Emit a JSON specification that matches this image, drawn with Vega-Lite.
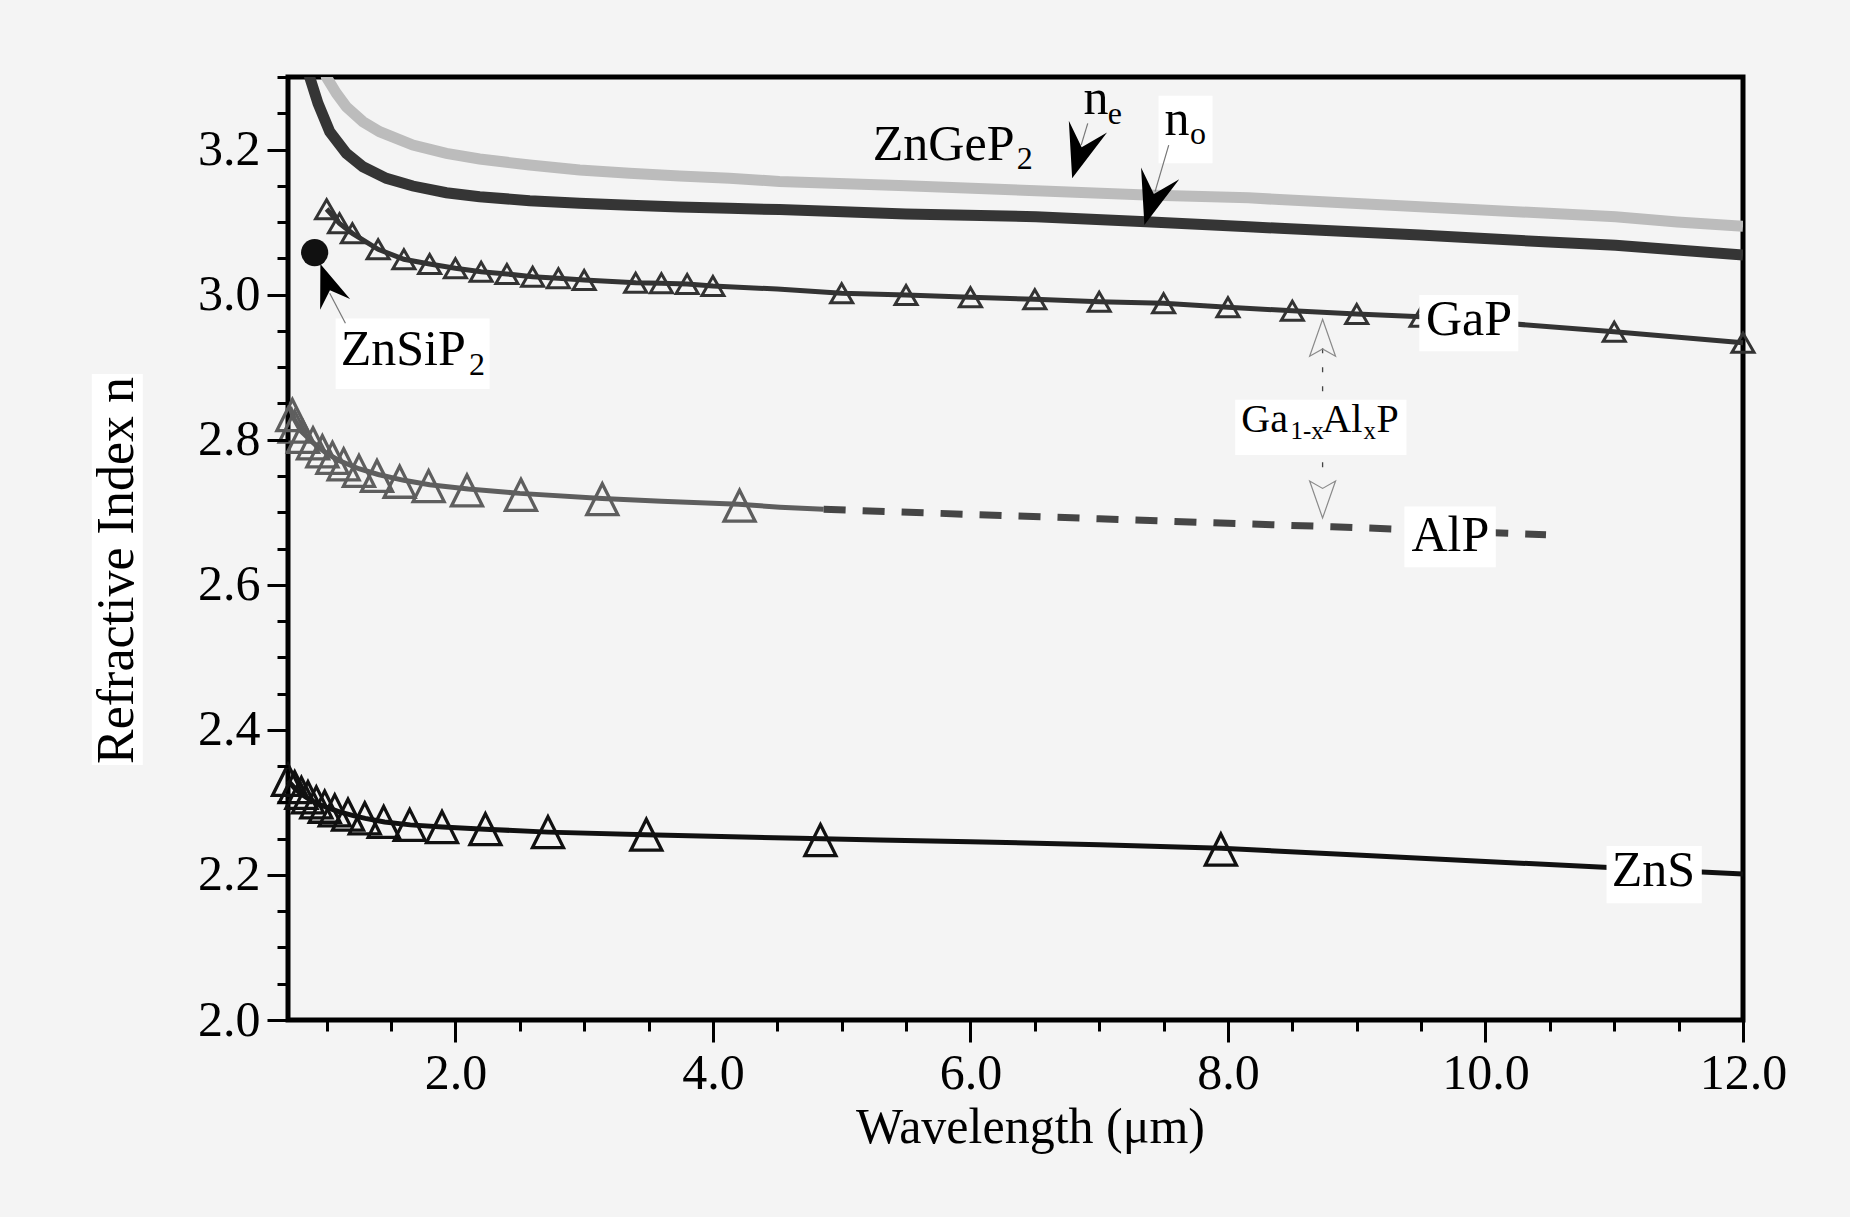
{
  "$schema": "https://vega.github.io/schema/vega-lite/v6.json",
  "width": 1455,
  "height": 943,
  "autosize": {"type": "none"},
  "padding": {"left": 288, "top": 77, "right": 107, "bottom": 197},
  "background": "#f4f4f4",
  "config": {"view": {"stroke": "#000000", "strokeWidth": 5}, "font": "Liberation Serif"},
  "datasets": {
    "ne": [
      {"lambda": 0.985, "n": 3.315}, {"lambda": 0.998, "n": 3.3}, {"lambda": 1.076, "n": 3.2775}, {"lambda": 1.153, "n": 3.259},
      {"lambda": 1.282, "n": 3.2384}, {"lambda": 1.412, "n": 3.2246}, {"lambda": 1.67, "n": 3.2062}, {"lambda": 1.93, "n": 3.1948},
      {"lambda": 2.188, "n": 3.1869}, {"lambda": 2.577, "n": 3.1787}, {"lambda": 2.965, "n": 3.1718}, {"lambda": 3.353, "n": 3.1672},
      {"lambda": 3.741, "n": 3.1635}, {"lambda": 4.129, "n": 3.1603}, {"lambda": 4.517, "n": 3.156}, {"lambda": 5.5, "n": 3.1501},
      {"lambda": 6.51, "n": 3.1432}, {"lambda": 7.364, "n": 3.1373}, {"lambda": 8.16, "n": 3.1336}, {"lambda": 8.4, "n": 3.131},
      {"lambda": 9.49, "n": 3.1212}, {"lambda": 10.49, "n": 3.1121}, {"lambda": 11.01, "n": 3.1074}, {"lambda": 11.49, "n": 3.1001},
      {"lambda": 12.0, "n": 3.0942}
    ],
    "no": [
      {"lambda": 0.86, "n": 3.315}, {"lambda": 0.868, "n": 3.3}, {"lambda": 0.933, "n": 3.2637}, {"lambda": 1.024, "n": 3.2246},
      {"lambda": 1.153, "n": 3.1948}, {"lambda": 1.282, "n": 3.1763}, {"lambda": 1.464, "n": 3.1603}, {"lambda": 1.67, "n": 3.1497},
      {"lambda": 1.93, "n": 3.1405}, {"lambda": 2.188, "n": 3.135}, {"lambda": 2.577, "n": 3.1295}, {"lambda": 2.965, "n": 3.1259},
      {"lambda": 3.353, "n": 3.1231}, {"lambda": 3.741, "n": 3.1208}, {"lambda": 4.129, "n": 3.119}, {"lambda": 4.517, "n": 3.1172},
      {"lambda": 5.5, "n": 3.1111}, {"lambda": 6.51, "n": 3.1075}, {"lambda": 7.364, "n": 3.1005}, {"lambda": 8.16, "n": 3.0937},
      {"lambda": 8.4, "n": 3.0914}, {"lambda": 9.49, "n": 3.0822}, {"lambda": 10.49, "n": 3.0725}, {"lambda": 11.01, "n": 3.068},
      {"lambda": 12.0, "n": 3.0546}
    ],
    "gapLine": [
      {"lambda": 1.0, "n": 3.118}, {"lambda": 1.1, "n": 3.098}, {"lambda": 1.2, "n": 3.0845}, {"lambda": 1.4, "n": 3.0625},
      {"lambda": 1.6, "n": 3.0487}, {"lambda": 1.8, "n": 3.0422}, {"lambda": 2.0, "n": 3.0363}, {"lambda": 2.2, "n": 3.0316},
      {"lambda": 2.4, "n": 3.0284}, {"lambda": 2.6, "n": 3.0247}, {"lambda": 2.8, "n": 3.0225}, {"lambda": 3.0, "n": 3.0201},
      {"lambda": 3.4, "n": 3.0164}, {"lambda": 3.6, "n": 3.0156}, {"lambda": 3.8, "n": 3.0146}, {"lambda": 4.0, "n": 3.0119},
      {"lambda": 4.5, "n": 3.0076}, {"lambda": 5.0, "n": 3.0018}, {"lambda": 5.5, "n": 2.9995}, {"lambda": 6.0, "n": 2.9963},
      {"lambda": 6.5, "n": 2.9935}, {"lambda": 7.0, "n": 2.9902}, {"lambda": 7.5, "n": 2.988}, {"lambda": 8.0, "n": 2.9825},
      {"lambda": 8.5, "n": 2.9778}, {"lambda": 9.0, "n": 2.9733}, {"lambda": 9.5, "n": 2.9695}, {"lambda": 10.0, "n": 2.9626},
      {"lambda": 11.0, "n": 2.9489}, {"lambda": 12.0, "n": 2.9337}
    ],
    "gapPts": [
      {"lambda": 1.0, "n": 3.1176}, {"lambda": 1.1, "n": 3.0983}, {"lambda": 1.2, "n": 3.0845}, {"lambda": 1.4, "n": 3.0625},
      {"lambda": 1.6, "n": 3.0487}, {"lambda": 1.8, "n": 3.0422}, {"lambda": 2.0, "n": 3.0363}, {"lambda": 2.2, "n": 3.0316},
      {"lambda": 2.4, "n": 3.0284}, {"lambda": 2.6, "n": 3.0247}, {"lambda": 2.8, "n": 3.0225}, {"lambda": 3.0, "n": 3.0201},
      {"lambda": 3.4, "n": 3.0164}, {"lambda": 3.6, "n": 3.0156}, {"lambda": 3.8, "n": 3.0146}, {"lambda": 4.0, "n": 3.0119},
      {"lambda": 5.0, "n": 3.0018}, {"lambda": 5.5, "n": 2.9995}, {"lambda": 6.0, "n": 2.9963}, {"lambda": 6.5, "n": 2.9935},
      {"lambda": 7.0, "n": 2.9902}, {"lambda": 7.5, "n": 2.988}, {"lambda": 8.0, "n": 2.9825}, {"lambda": 8.5, "n": 2.9778},
      {"lambda": 9.0, "n": 2.9733}, {"lambda": 9.5, "n": 2.9695}, {"lambda": 10.0, "n": 2.9626}, {"lambda": 11.0, "n": 2.9489},
      {"lambda": 12.0, "n": 2.9337}
    ],
    "alpSolid": [
      {"lambda": 0.713, "n": 2.845}, {"lambda": 0.75, "n": 2.828}, {"lambda": 0.8, "n": 2.812}, {"lambda": 0.9, "n": 2.795},
      {"lambda": 1.0, "n": 2.781}, {"lambda": 1.1, "n": 2.771}, {"lambda": 1.25, "n": 2.76}, {"lambda": 1.4, "n": 2.752},
      {"lambda": 1.6, "n": 2.744}, {"lambda": 1.8, "n": 2.738}, {"lambda": 2.1, "n": 2.732}, {"lambda": 2.5, "n": 2.726},
      {"lambda": 3.14, "n": 2.719}, {"lambda": 3.6, "n": 2.715}, {"lambda": 4.2, "n": 2.711}, {"lambda": 4.52, "n": 2.707},
      {"lambda": 4.86, "n": 2.704}
    ],
    "alpDash": [
      {"lambda": 4.86, "n": 2.704}, {"lambda": 6.0, "n": 2.697}, {"lambda": 7.0, "n": 2.691}, {"lambda": 7.78, "n": 2.686},
      {"lambda": 8.81, "n": 2.68}, {"lambda": 10.47, "n": 2.669}
    ],
    "alpPts": [
      {"lambda": 0.734, "n": 2.834}, {"lambda": 0.752, "n": 2.818}, {"lambda": 0.816, "n": 2.804}, {"lambda": 0.894, "n": 2.795},
      {"lambda": 0.967, "n": 2.784}, {"lambda": 1.045, "n": 2.775}, {"lambda": 1.132, "n": 2.766}, {"lambda": 1.251, "n": 2.757},
      {"lambda": 1.391, "n": 2.75}, {"lambda": 1.567, "n": 2.742}, {"lambda": 1.792, "n": 2.736}, {"lambda": 2.09, "n": 2.73},
      {"lambda": 2.509, "n": 2.724}, {"lambda": 3.141, "n": 2.718}, {"lambda": 4.207, "n": 2.709}
    ],
    "znsLine": [
      {"lambda": 0.7, "n": 2.33}, {"lambda": 0.75, "n": 2.32}, {"lambda": 0.8, "n": 2.312}, {"lambda": 0.86, "n": 2.305},
      {"lambda": 0.92, "n": 2.299}, {"lambda": 1.0, "n": 2.293}, {"lambda": 1.1, "n": 2.287}, {"lambda": 1.2, "n": 2.282},
      {"lambda": 1.3, "n": 2.278}, {"lambda": 1.45, "n": 2.273}, {"lambda": 1.65, "n": 2.269}, {"lambda": 1.9, "n": 2.266},
      {"lambda": 2.23, "n": 2.263}, {"lambda": 2.72, "n": 2.259}, {"lambda": 3.48, "n": 2.2555}, {"lambda": 4.67, "n": 2.2505},
      {"lambda": 5.29, "n": 2.248}, {"lambda": 6.0, "n": 2.2458}, {"lambda": 7.0, "n": 2.2415}, {"lambda": 7.95, "n": 2.2367},
      {"lambda": 9.0, "n": 2.2274}, {"lambda": 10.0, "n": 2.2186}, {"lambda": 10.92, "n": 2.2105}, {"lambda": 12.0, "n": 2.2013}
    ],
    "znsPts": [
      {"lambda": 0.7, "n": 2.331}, {"lambda": 0.752, "n": 2.321}, {"lambda": 0.804, "n": 2.313}, {"lambda": 0.855, "n": 2.307},
      {"lambda": 0.92, "n": 2.3}, {"lambda": 0.985, "n": 2.294}, {"lambda": 1.063, "n": 2.289}, {"lambda": 1.166, "n": 2.283},
      {"lambda": 1.296, "n": 2.278}, {"lambda": 1.443, "n": 2.273}, {"lambda": 1.645, "n": 2.269}, {"lambda": 1.896, "n": 2.266},
      {"lambda": 2.233, "n": 2.263}, {"lambda": 2.719, "n": 2.259}, {"lambda": 3.483, "n": 2.2555}, {"lambda": 4.835, "n": 2.248},
      {"lambda": 7.945, "n": 2.235}
    ],
    "znsip2": [{"lambda": 0.907, "n": 3.058}],
    "boxes": [
      {"name": "GaP", "lambda": 9.486, "lambda2": 10.255, "n": 2.9994, "n2": 2.922},
      {"name": "AlP", "lambda": 9.37, "lambda2": 10.08, "n": 2.708, "n2": 2.624},
      {"name": "ZnS", "lambda": 10.94, "lambda2": 11.68, "n": 2.24, "n2": 2.161},
      {"name": "ZnSiP2", "lambda": 1.07, "lambda2": 2.266, "n": 2.967, "n2": 2.87},
      {"name": "n_o", "lambda": 7.461, "lambda2": 7.88, "n": 3.274, "n2": 3.181},
      {"name": "GaAlP", "lambda": 8.056, "lambda2": 9.386, "n": 2.855, "n2": 2.779},
      {"name": "ytitle", "lambda": -0.824, "lambda2": -0.428, "n": 2.8906, "n2": 2.3515}
    ],
    "leaders": [
      {"lambda": 1.024, "n": 3.0018, "lambda2": 1.146, "n2": 2.9604},
      {"lambda": 6.86, "n": 3.206, "lambda2": 6.911, "n2": 3.236},
      {"lambda": 7.434, "n": 3.142, "lambda2": 7.54, "n2": 3.206}
    ],
    "alloyRule": [{"lambda": 8.735, "n": 2.926, "lambda2": 8.735, "n2": 2.744}],
    "labels": [
      {"t": "GaP", "lambda": 9.538, "n": 2.944},
      {"t": "AlP", "lambda": 9.425, "n": 2.646},
      {"t": "ZnS", "lambda": 10.98, "n": 2.1847},
      {"t": "ZnSiP", "lambda": 1.109, "n": 2.903},
      {"t": "ZnGeP", "lambda": 5.242, "n": 3.1855},
      {"t": "n", "lambda": 6.878, "n": 3.2486},
      {"t": "n", "lambda": 7.507, "n": 3.22}
    ],
    "subs": [
      {"t": "2", "lambda": 2.105, "n": 2.889},
      {"t": "2", "lambda": 6.36, "n": 3.1727},
      {"t": "e", "lambda": 7.066, "n": 3.2352},
      {"t": "o", "lambda": 7.706, "n": 3.2076}
    ],
    "alloyLabels": [
      {"t": "Ga", "lambda": 8.104, "n": 2.811},
      {"t": "Al", "lambda": 8.733, "n": 2.811},
      {"t": "P", "lambda": 9.153, "n": 2.811}
    ],
    "alloySubs": [
      {"t": "1-x", "lambda": 8.485, "n": 2.8005},
      {"t": "x", "lambda": 9.052, "n": 2.8005}
    ],
    "arrowsZnGeP2": [
      {"name": "n_e", "lambda": 6.79, "n": 3.1603},
      {"name": "n_o", "lambda": 7.351, "n": 3.096}
    ],
    "arrowZnSiP2": [{"lambda": 0.9515, "n": 3.0422}],
    "openUp": [{"lambda": 8.735, "n": 2.966}],
    "openDown": [{"lambda": 8.735, "n": 2.692}]
  },
  "encoding": {
    "x": {
      "field": "lambda",
      "type": "quantitative",
      "scale": {"domain": [0.7, 12], "nice": false, "zero": false},
      "axis": {
        "values": [1, 1.5, 2, 2.5, 3, 3.5, 4, 4.5, 5, 5.5, 6, 6.5, 7, 7.5, 8, 8.5, 9, 9.5, 10, 10.5, 11, 11.5, 12],
        "labelExpr": "datum.value % 2 == 0 ? format(datum.value, '.1f') : ''",
        "tickSize": {"condition": {"test": "datum.value % 2 == 0", "value": 22}, "value": 11},
        "tickWidth": 3,
        "tickColor": "#000000",
        "domain": false,
        "grid": false,
        "labelFont": "Liberation Serif",
        "labelFontSize": 50,
        "labelColor": "#000000",
        "labelPadding": 6,
        "labelOverlap": false,
        "labelFlush": false,
        "labelBound": false,
        "title": "Wavelength (μm)",
        "titleFont": "Liberation Serif",
        "titleFontSize": 50,
        "titleFontWeight": "normal",
        "titleColor": "#000000",
        "titleX": 742,
        "titleY": 122,
        "titleBaseline": "alphabetic",
        "titleAlign": "center"
      }
    },
    "y": {
      "field": "n",
      "type": "quantitative",
      "scale": {"domain": [2.0, 3.3], "nice": false, "zero": false},
      "axis": {
        "zindex": 1,
        "values": [2, 2.05, 2.1, 2.15, 2.2, 2.25, 2.3, 2.35, 2.4, 2.45, 2.5, 2.55, 2.6, 2.65, 2.7, 2.75, 2.8, 2.85, 2.9, 2.95, 3, 3.05, 3.1, 3.15, 3.2, 3.25, 3.3],
        "labelExpr": "abs(datum.value*5 - round(datum.value*5)) < 0.001 ? format(datum.value, '.1f') : ''",
        "tickSize": {"condition": {"test": "abs(datum.value*5 - round(datum.value*5)) < 0.001", "value": 21}, "value": 11},
        "tickWidth": 3,
        "tickColor": "#000000",
        "domain": false,
        "grid": false,
        "labelFont": "Liberation Serif",
        "labelFontSize": 50,
        "labelColor": "#000000",
        "labelPadding": 7,
        "labelOverlap": false,
        "labelFlush": false,
        "labelBound": false,
        "title": "Refractive Index n",
        "titleFont": "Liberation Serif",
        "titleFontSize": 52,
        "titleFontWeight": "normal",
        "titleColor": "#000000",
        "titleX": -172,
        "titleY": 493,
        "titleAngle": 270,
        "titleAlign": "center",
        "titleBaseline": "middle"
      }
    }
  },
  "layer": [
    {"data": {"name": "boxes"}, "transform": [{"filter": "datum.name == 'ytitle'"}], "mark": {"type": "rect", "color": "#ffffff", "opacity": 1}, "encoding": {"x2": {"field": "lambda2"}, "y2": {"field": "n2"}}},
    {"data": {"name": "ne"}, "mark": {"type": "line", "color": "#bcbcbc", "strokeWidth": 11, "clip": true}, "encoding": {}},
    {"data": {"name": "no"}, "mark": {"type": "line", "color": "#353535", "strokeWidth": 11, "clip": true}, "encoding": {}},
    {"data": {"name": "gapLine"}, "mark": {"type": "line", "color": "#333333", "strokeWidth": 5}, "encoding": {}},
    {"data": {"name": "alpSolid"}, "mark": {"type": "line", "color": "#5e5e5e", "strokeWidth": 5}, "encoding": {}},
    {"data": {"name": "alpDash"}, "mark": {"type": "line", "color": "#454545", "strokeWidth": 7, "strokeDash": [22, 17]}, "encoding": {}},
    {"data": {"name": "znsLine"}, "mark": {"type": "line", "color": "#111111", "strokeWidth": 5}, "encoding": {}},
    {"data": {"name": "gapPts"}, "mark": {"type": "point", "shape": "triangle-up", "size": 484, "filled": false, "color": "#333333", "strokeWidth": 3, "opacity": 1}},
    {"data": {"name": "alpPts"}, "mark": {"type": "point", "shape": "M0,-1L1,1L-1,1Z", "size": 961, "filled": false, "color": "#5e5e5e", "strokeWidth": 3.3, "opacity": 1}},
    {"data": {"name": "znsPts"}, "mark": {"type": "point", "shape": "M0,-1L1,1L-1,1Z", "size": 961, "filled": false, "color": "#111111", "strokeWidth": 3.3, "opacity": 1}},
    {"data": {"name": "znsip2"}, "mark": {"type": "point", "shape": "circle", "size": 740, "filled": true, "color": "#111111", "opacity": 1}},
    {"data": {"name": "alloyRule"}, "mark": {"type": "rule", "color": "#444444", "strokeWidth": 1.3, "strokeDash": [5, 14]}, "encoding": {"x2": {"field": "lambda2"}, "y2": {"field": "n2"}}},
    {"data": {"name": "boxes"}, "transform": [{"filter": "datum.name != 'ytitle'"}], "mark": {"type": "rect", "color": "#ffffff", "opacity": 1}, "encoding": {"x2": {"field": "lambda2"}, "y2": {"field": "n2"}}},
    {"data": {"name": "leaders"}, "mark": {"type": "rule", "color": "#777777", "strokeWidth": 1.2}, "encoding": {"x2": {"field": "lambda2"}, "y2": {"field": "n2"}}},
    {"data": {"name": "arrowsZnGeP2"}, "mark": {"type": "point", "shape": "M0,0L0.74,2L0,1.2L-0.74,2Z", "size": 2916, "angle": 197, "filled": true, "color": "#000000", "opacity": 1}},
    {"data": {"name": "arrowZnSiP2"}, "mark": {"type": "point", "shape": "M0,0L0.74,2L0,1.3L-0.74,2Z", "size": 1849, "angle": 340, "filled": true, "color": "#000000", "opacity": 1}},
    {"data": {"name": "openUp"}, "mark": {"type": "point", "shape": "M0,0L0.7,2L0,1.6L-0.7,2Z", "size": 1369, "angle": 0, "filled": false, "color": "#8a8a8a", "strokeWidth": 1.2, "opacity": 1}},
    {"data": {"name": "openDown"}, "mark": {"type": "point", "shape": "M0,0L0.7,2L0,1.6L-0.7,2Z", "size": 1369, "angle": 180, "filled": false, "color": "#8a8a8a", "strokeWidth": 1.2, "opacity": 1}},
    {"data": {"name": "labels"}, "mark": {"type": "text", "align": "left", "baseline": "alphabetic", "font": "Liberation Serif", "fontSize": 50, "color": "#000000"}, "encoding": {"text": {"field": "t"}}},
    {"data": {"name": "subs"}, "mark": {"type": "text", "align": "left", "baseline": "alphabetic", "font": "Liberation Serif", "fontSize": 32, "color": "#000000"}, "encoding": {"text": {"field": "t"}}},
    {"data": {"name": "alloyLabels"}, "mark": {"type": "text", "align": "left", "baseline": "alphabetic", "font": "Liberation Serif", "fontSize": 40, "color": "#000000"}, "encoding": {"text": {"field": "t"}}},
    {"data": {"name": "alloySubs"}, "mark": {"type": "text", "align": "left", "baseline": "alphabetic", "font": "Liberation Serif", "fontSize": 25, "color": "#000000"}, "encoding": {"text": {"field": "t"}}}
  ]
}
